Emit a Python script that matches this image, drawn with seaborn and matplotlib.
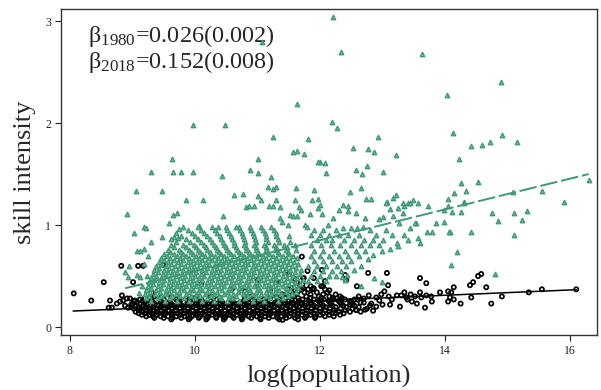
import matplotlib
matplotlib.use("Agg")
import matplotlib.pyplot as plt
import pandas as pd
import seaborn as sns

# ---------------- data ----------------
# 2018 series (green triangles): sparse / outlying points
green_pts = [
    (11.07, 2.79), (9.97, 1.98), (10.48, 1.98), (11.63, 2.19), (11.25, 1.86), (9.63, 1.65),
    (9.30, 1.52), (9.65, 1.52), (9.78, 1.52), (9.97, 1.52), (10.43, 1.48), (10.88, 1.54),
    (11.01, 1.51), (11.00, 1.65), (11.21, 1.47), (11.57, 1.72), (11.63, 1.73), (9.06, 1.33),
    (9.47, 1.33), (9.86, 1.25), (10.13, 1.25), (10.63, 1.29), (10.76, 1.30), (11.01, 1.28),
    (11.17, 1.37), (11.25, 1.35), (11.30, 1.37), (11.62, 1.36),
    (12.21, 3.04), (12.34, 2.70), (13.63, 2.68), (14.90, 2.40), (14.03, 2.27), (12.19, 2.01),
    (12.27, 1.95), (11.81, 1.84), (11.74, 1.70), (12.53, 1.76), (12.76, 1.75), (12.86, 1.72),
    (12.92, 1.86), (13.22, 1.69), (14.13, 1.90), (14.42, 1.77), (14.59, 1.78), (14.72, 1.81),
    (14.91, 1.88), (15.15, 1.81), (14.22, 1.65), (12.00, 1.62), (12.08, 1.61), (12.10, 1.51),
    (12.58, 1.54), (12.67, 1.50), (12.75, 1.58), (13.00, 1.52), (11.90, 1.34), (12.48, 1.32),
    (12.65, 1.36), (13.21, 1.29), (14.25, 1.41), (14.53, 1.42), (14.14, 1.31), (14.34, 1.33),
    (15.09, 1.32), (15.55, 1.33), (16.30, 1.44), (15.91, 1.23), (14.31, 1.23), (14.12, 1.13),
    (14.25, 1.13), (14.75, 1.12), (15.10, 1.12), (15.31, 1.14), (14.85, 1.04), (15.23, 1.05),
    (14.42, 0.93), (15.10, 0.90), (14.08, 0.93), (14.20, 0.74), (14.10, 0.61), (14.80, 0.52),
    (12.73, 1.26), (12.81, 1.26), (13.07, 1.23), (13.17, 1.27), (13.41, 1.22), (13.49, 1.25),
    (13.57, 1.22), (13.35, 1.19), (13.25, 1.17), (13.12, 1.16), (13.73, 1.19), (14.05, 1.26),
    (14.05, 1.19), (13.98, 1.15), (12.37, 1.20), (12.30, 1.15), (12.45, 1.19), (12.45, 1.14),
    (12.58, 1.12), (12.21, 1.07), (12.13, 1.00), (12.00, 1.20), (12.03, 1.11), (12.72, 1.07),
    (12.94, 1.06), (13.00, 1.08), (13.17, 1.09), (13.33, 1.12), (13.54, 1.02), (13.86, 1.02),
    (13.98, 1.03), (13.26, 1.02), (12.37, 0.97), (12.50, 0.97), (12.59, 0.97), (12.68, 0.98),
    (11.97, 1.62), (11.05, 1.25), (11.30, 1.25), (11.60, 1.25), (11.97, 1.26), (10.82, 1.18),
    (10.86, 1.19), (10.94, 1.19), (11.18, 1.19), (11.25, 1.19), (11.36, 1.18), (11.67, 1.18),
    (11.70, 1.15), (11.84, 1.11), (11.97, 1.17), (10.45, 1.09), (10.06, 0.99), (10.37, 0.98),
    (10.66, 0.98), (11.36, 1.07), (11.39, 1.03), (11.52, 1.10), (11.57, 1.09), (11.63, 1.09),
    (11.49, 1.00), (11.76, 1.00), (11.79, 0.98), (8.91, 1.11), (9.65, 1.10), (9.71, 1.12),
    (9.58, 1.02), (9.18, 0.98), (9.21, 0.97), (9.74, 0.96), (9.03, 0.92), (9.47, 0.88),
    (9.66, 0.88), (9.72, 0.87), (9.07, 0.75), (9.12, 0.75), (9.18, 0.77), (9.30, 0.83),
    (8.88, 0.54), (8.92, 0.49), (9.07, 0.51), (9.12, 0.49), (9.23, 0.50), (8.95, 0.60),
    (11.87, 1.25), (13.06, 1.22), (13.33, 1.22), (13.44, 1.22), (14.30, 1.22), (13.71, 0.93),
    (13.79, 0.93), (14.06, 0.93), (13.60, 0.82), (13.57, 0.87), (13.52, 1.02), (13.44, 0.97),
    (13.23, 0.82), (13.25, 0.79), (13.12, 0.77), (12.99, 0.75), (12.85, 0.71), (12.77, 0.67),
    (12.66, 0.60), (12.54, 0.56), (12.43, 0.51), (12.35, 0.49), (12.87, 0.48), (12.99, 0.44),
    (12.66, 0.40), (12.40, 0.46), (9.15, 0.40), (9.10, 0.33), (9.18, 0.62), (9.25, 0.70),
]

# 2018 series: the dense cloud, read row by row (y level, x positions)
green_rows = [
    (0.26, [9.3, 9.52, 9.71, 9.9, 10.12, 10.3, 10.51, 10.7, 10.93, 11.1, 11.32]),
    (0.28, [9.22, 9.4, 9.6, 9.82, 10.0, 10.2, 10.41, 10.6, 10.8, 11.02, 11.2, 11.4]),
    (0.30, [9.27, 9.45, 9.63, 9.76, 9.93, 10.08, 10.25, 10.38, 10.55, 10.66, 10.85, 10.97, 11.14, 11.3, 11.48]),
    (0.32, [9.2, 9.36, 9.52, 9.69, 9.85, 10.01, 10.16, 10.31, 10.47, 10.61, 10.76, 10.91, 11.06, 11.22, 11.38, 11.55]),
    (0.34, [9.28, 9.44, 9.58, 9.74, 9.9, 10.05, 10.2, 10.36, 10.52, 10.68, 10.82, 10.98, 11.13, 11.28, 11.45, 11.62]),
    (0.36, [9.22, 9.38, 9.53, 9.67, 9.82, 9.97, 10.12, 10.27, 10.43, 10.58, 10.73, 10.88, 11.04, 11.2, 11.35, 11.52]),
    (0.38, [9.3, 9.46, 9.61, 9.77, 9.93, 10.08, 10.23, 10.39, 10.54, 10.7, 10.85, 11.0, 11.16, 11.3, 11.46, 11.65]),
    (0.40, [9.25, 9.41, 9.56, 9.71, 9.86, 10.01, 10.17, 10.32, 10.47, 10.62, 10.78, 10.94, 11.1, 11.25, 11.4, 11.58]),
    (0.42, [9.33, 9.49, 9.64, 9.79, 9.95, 10.1, 10.26, 10.41, 10.57, 10.72, 10.87, 11.03, 11.18, 11.34, 11.5, 11.68]),
    (0.44, [9.27, 9.43, 9.58, 9.73, 9.89, 10.04, 10.2, 10.35, 10.5, 10.66, 10.81, 10.97, 11.12, 11.28, 11.44, 11.6]),
    (0.46, [9.35, 9.51, 9.66, 9.82, 9.97, 10.12, 10.28, 10.43, 10.59, 10.74, 10.9, 11.05, 11.21, 11.37, 11.53, 11.72]),
    (0.48, [9.3, 9.45, 9.6, 9.76, 9.92, 10.07, 10.22, 10.37, 10.53, 10.68, 10.84, 11.0, 11.15, 11.3, 11.47, 11.63]),
    (0.50, [9.38, 9.53, 9.69, 9.84, 10.0, 10.15, 10.3, 10.46, 10.61, 10.77, 10.92, 11.08, 11.24, 11.4, 11.56]),
    (0.52, [9.32, 9.48, 9.63, 9.79, 9.94, 10.09, 10.25, 10.4, 10.56, 10.71, 10.86, 11.02, 11.17, 11.33, 11.5, 11.68]),
    (0.54, [9.4, 9.56, 9.71, 9.87, 10.02, 10.18, 10.33, 10.49, 10.64, 10.8, 10.95, 11.1, 11.26, 11.42, 11.6]),
    (0.56, [9.35, 9.5, 9.65, 9.81, 9.96, 10.12, 10.27, 10.42, 10.58, 10.73, 10.89, 11.04, 11.2, 11.36, 11.52, 11.7]),
    (0.58, [9.43, 9.58, 9.74, 9.9, 10.05, 10.2, 10.36, 10.51, 10.67, 10.82, 10.98, 11.13, 11.29, 11.45, 11.62]),
    (0.60, [9.38, 9.53, 9.68, 9.84, 9.99, 10.14, 10.3, 10.45, 10.61, 10.76, 10.92, 11.07, 11.23, 11.39, 11.55]),
    (0.62, [9.46, 9.62, 9.77, 9.93, 10.08, 10.23, 10.39, 10.54, 10.7, 10.85, 11.01, 11.16, 11.32, 11.48, 11.65]),
    (0.64, [9.42, 9.57, 9.72, 9.88, 10.03, 10.18, 10.33, 10.49, 10.64, 10.8, 10.95, 11.11, 11.26, 11.42, 11.58]),
    (0.66, [9.5, 9.66, 9.81, 9.97, 10.12, 10.27, 10.43, 10.58, 10.74, 10.89, 11.05, 11.2, 11.36, 11.52]),
    (0.68, [9.45, 9.6, 9.76, 9.91, 10.06, 10.22, 10.37, 10.52, 10.68, 10.83, 10.99, 11.14, 11.3, 11.46, 11.63]),
    (0.70, [9.55, 9.71, 9.86, 10.01, 10.16, 10.32, 10.47, 10.62, 10.78, 10.93, 11.09, 11.24, 11.4, 11.56]),
    (0.72, [9.5, 9.66, 9.8, 9.96, 10.11, 10.26, 10.42, 10.57, 10.73, 10.88, 11.03, 11.19, 11.34, 11.5]),
    (0.74, [9.6, 9.77, 9.93, 10.08, 10.24, 10.39, 10.55, 10.7, 10.86, 11.01, 11.17, 11.33, 11.49]),
    (0.76, [9.56, 9.74, 9.9, 10.05, 10.2, 10.36, 10.51, 10.67, 10.82, 10.98, 11.13, 11.29, 11.45, 11.62]),
    (0.78, [9.66, 9.85, 10.02, 10.18, 10.34, 10.5, 10.66, 10.82, 10.97, 11.13, 11.3, 11.47]),
    (0.80, [9.62, 9.8, 9.98, 10.14, 10.3, 10.46, 10.62, 10.78, 10.95, 11.1, 11.27, 11.43, 11.6]),
    (0.83, [9.7, 9.92, 10.1, 10.28, 10.45, 10.63, 10.8, 10.98, 11.16, 11.35, 11.52]),
    (0.86, [9.62, 9.85, 10.05, 10.24, 10.42, 10.6, 10.78, 10.96, 11.14, 11.32]),
    (0.89, [9.78, 10.0, 10.2, 10.4, 10.58, 10.77, 10.95, 11.13, 11.3, 11.5]),
    (0.92, [9.7, 9.95, 10.15, 10.36, 10.55, 10.75, 10.93, 11.12, 11.3]),
    (0.95, [9.88, 10.1, 10.32, 10.52, 10.72, 10.9, 11.08, 11.26]),
    (0.98, [9.8, 10.05, 10.28, 10.5, 10.7, 10.88, 11.06, 11.22]),
    (0.95, [11.9, 12.05, 12.25, 12.8, 13.05]),
    (0.90, [11.85, 12.0, 12.15, 12.3, 12.45, 12.62, 12.9, 13.15, 13.35]),
    (0.85, [11.95, 12.1, 12.2, 12.38, 12.55, 12.7, 12.85, 13.0, 13.4]),
    (0.80, [11.85, 12.02, 12.18, 12.32, 12.5, 12.65, 12.8, 12.95]),
    (0.75, [11.9, 12.05, 12.22, 12.4, 12.58, 12.72]),
    (0.70, [11.85, 12.0, 12.15, 12.3, 12.45, 12.62]),
    (0.65, [11.9, 12.05, 12.2, 12.35, 12.5]),
    (0.60, [11.8, 11.95, 12.1, 12.28, 12.42]),
    (0.55, [11.9, 12.05, 12.2, 12.33]),
    (0.50, [11.85, 12.0, 12.15, 12.25]),
    (0.45, [11.8, 11.95, 12.1]),
]

# 1980 series (black circles): sparse / outlying points
black_pts = [
    (8.06, 0.33), (8.34, 0.26), (8.54, 0.44), (8.64, 0.26), (8.82, 0.60), (9.09, 0.60),
    (9.17, 0.60), (9.01, 0.44), (8.83, 0.31), (8.62, 0.19), (8.67, 0.19), (8.75, 0.23),
    (8.80, 0.25), (8.85, 0.26), (8.91, 0.28), (8.96, 0.28), (9.04, 0.26), (9.25, 0.36),
    (9.31, 0.34), (9.49, 0.61), (8.88, 0.21), (8.93, 0.19), (8.98, 0.22),
    (14.14, 0.39), (14.10, 0.34), (14.08, 0.29), (14.14, 0.27), (14.25, 0.23), (14.40, 0.41),
    (14.45, 0.44), (14.53, 0.50), (14.58, 0.52), (14.66, 0.39), (14.42, 0.29), (14.74, 0.23),
    (14.91, 0.30), (15.34, 0.34), (15.55, 0.37), (16.10, 0.37),
    (12.77, 0.53), (13.07, 0.53), (13.60, 0.48), (13.70, 0.43), (13.09, 0.41), (12.59, 0.40),
    (12.08, 0.45), (12.03, 0.56), (12.40, 0.51), (12.42, 0.46), (12.15, 0.36), (13.03, 0.35),
    (13.92, 0.34), (14.05, 0.35), (14.05, 0.25), (13.79, 0.25), (13.28, 0.20), (13.68, 0.19),
    (13.47, 0.25), (13.55, 0.23), (12.72, 0.17), (12.85, 0.16), (12.58, 0.17), (12.25, 0.14),
    (12.48, 0.22), (12.82, 0.23), (13.23, 0.31), (12.62, 0.30), (12.70, 0.28), (12.78, 0.31),
    (12.90, 0.29), (12.98, 0.32), (13.10, 0.30), (13.15, 0.27), (13.30, 0.31), (13.38, 0.29),
    (13.45, 0.32), (13.52, 0.30), (13.62, 0.29), (13.70, 0.31), (13.78, 0.30), (13.40, 0.27),
    (12.95, 0.26), (12.55, 0.27), (12.65, 0.24), (13.00, 0.22), (13.12, 0.22), (12.90, 0.20),
    (13.35, 0.34), (13.60, 0.34), (10.10, 0.42), (10.60, 0.38), (11.00, 0.40), (11.30, 0.44),
    (11.50, 0.52), (11.00, 0.46), (10.80, 0.35), (11.72, 0.42), (11.90, 0.48), (11.80, 0.55),
    (11.60, 0.47), (11.90, 0.38), (12.05, 0.40), (11.55, 0.38), (11.40, 0.07), (11.73, 0.48),
    (11.71, 0.69), (11.63, 0.44), (11.74, 0.48), (11.73, 0.38), (11.65, 0.35), (11.81, 0.37),
    (11.33, 0.44), (11.20, 0.36),
]

# 1980 series: the dense band, read row by row (y level, x positions)
black_rows = [
    (0.075, [9.62, 9.9, 10.18, 10.46, 10.75, 11.05, 11.35, 11.65]),
    (0.09, [9.35, 9.5, 9.64, 9.78, 9.92, 10.06, 10.2, 10.34, 10.48, 10.62, 10.76, 10.9, 11.04,
            11.18, 11.32, 11.46, 11.6, 11.76, 11.92]),
    (0.105, [9.22, 9.33, 9.45, 9.57, 9.7, 9.83, 9.95, 10.08, 10.21, 10.34, 10.47, 10.6, 10.73,
             10.86, 10.99, 11.12, 11.25, 11.38, 11.51, 11.64, 11.78, 11.93, 12.08, 12.22]),
    (0.12, [9.15, 9.27, 9.39, 9.51, 9.63, 9.76, 9.89, 10.02, 10.15, 10.28, 10.41, 10.54, 10.67,
            10.8, 10.93, 11.06, 11.19, 11.32, 11.45, 11.58, 11.71, 11.85, 12.0, 12.15, 12.32]),
    (0.135, [9.1, 9.2, 9.31, 9.42, 9.52, 9.62, 9.72, 9.82, 9.92, 10.02, 10.12, 10.22, 10.32,
             10.42, 10.52, 10.62, 10.72, 10.82, 10.92, 11.02, 11.12, 11.22, 11.32, 11.42, 11.53,
             11.65, 11.78, 11.9, 12.05, 12.2, 12.38]),
    (0.15, [9.05, 9.16, 9.28, 9.4, 9.52, 9.64, 9.77, 9.9, 10.03, 10.16, 10.29, 10.42, 10.55,
            10.68, 10.81, 10.94, 11.07, 11.2, 11.33, 11.46, 11.59, 11.72, 11.86, 12.0, 12.15,
            12.3, 12.48, 12.65]),
    (0.165, [9.1, 9.22, 9.34, 9.46, 9.58, 9.7, 9.83, 9.96, 10.09, 10.22, 10.35, 10.48, 10.61,
             10.74, 10.87, 11.0, 11.13, 11.26, 11.39, 11.52, 11.65, 11.79, 11.93, 12.08, 12.23,
             12.4, 12.58]),
    (0.18, [9.02, 9.14, 9.26, 9.38, 9.5, 9.63, 9.76, 9.89, 10.02, 10.15, 10.28, 10.41, 10.54,
            10.67, 10.8, 10.93, 11.06, 11.19, 11.32, 11.45, 11.58, 11.72, 11.86, 12.0, 12.16,
            12.33, 12.52, 12.75]),
    (0.195, [8.98, 9.1, 9.21, 9.33, 9.45, 9.57, 9.7, 9.83, 9.96, 10.09, 10.22, 10.35, 10.48,
             10.61, 10.74, 10.87, 11.0, 11.13, 11.26, 11.39, 11.52, 11.66, 11.8, 11.94, 12.09,
             12.25, 12.42, 12.62]),
    (0.21, [9.05, 9.17, 9.29, 9.41, 9.53, 9.66, 9.79, 9.92, 10.05, 10.18, 10.31, 10.44, 10.57,
            10.7, 10.83, 10.96, 11.09, 11.22, 11.35, 11.48, 11.62, 11.76, 11.9, 12.05, 12.2,
            12.37, 12.55, 12.8]),
    (0.225, [9.0, 9.12, 9.24, 9.36, 9.49, 9.62, 9.75, 9.88, 10.01, 10.14, 10.27, 10.4, 10.53,
             10.66, 10.79, 10.92, 11.05, 11.18, 11.31, 11.44, 11.58, 11.72, 11.86, 12.01, 12.17,
             12.34, 12.52]),
    (0.24, [9.07, 9.2, 9.33, 9.46, 9.6, 9.74, 9.88, 10.02, 10.16, 10.3, 10.44, 10.58, 10.72,
            10.86, 11.0, 11.14, 11.28, 11.42, 11.56, 11.7, 11.85, 12.0, 12.16, 12.32, 12.5, 12.7]),
    (0.255, [9.02, 9.16, 9.3, 9.45, 9.6, 9.76, 9.92, 10.08, 10.25, 10.42, 10.6, 10.78, 10.96,
             11.14, 11.32, 11.5, 11.66, 11.82, 11.98, 12.14, 12.3, 12.48]),
    (0.27, [9.12, 9.3, 9.5, 9.7, 9.9, 10.1, 10.35, 10.6, 10.85, 11.1, 11.35, 11.55, 11.72, 11.9,
            12.06, 12.22, 12.4, 12.6]),
    (0.285, [9.2, 9.45, 9.7, 10.0, 10.4, 10.8, 11.2, 11.45, 11.65, 11.85, 12.02, 12.2, 12.35]),
    (0.30, [9.35, 9.62, 10.25, 10.9, 11.3, 11.58, 11.78, 11.98, 12.15, 12.32]),
    (0.32, [11.4, 11.62, 11.85, 12.05, 12.25]),
    (0.34, [11.55, 11.75, 11.95, 12.12]),
    (0.37, [11.5, 11.7, 11.88, 12.08]),
    (0.40, [11.62, 11.85, 12.02]),
]

# fitted lines (end points)
fit1980_x = [8.05, 16.10]
fit1980_y = [0.157, 0.366]
fit2018_x = [8.88, 16.30]
fit2018_y = [0.38, 1.50]

x_ticks = [8, 10, 12, 14, 16]
y_ticks = [0, 1, 2, 3]
label_1980 = r"$\mathrm{\beta}_{1980}$=0.026(0.002)"
label_2018 = r"$\mathrm{\beta}_{2018}$=0.152(0.008)"

# ---------------- assemble ----------------
def expand(pts, rows):
    xs = [p[0] for p in pts]
    ys = [p[1] for p in pts]
    for yv, xl in rows:
        xs.extend(xl)
        ys.extend([yv] * len(xl))
    return pd.DataFrame({"x": xs, "y": ys})

df_black = expand(black_pts, black_rows)
df_green = expand(green_pts, green_rows)

sns.set_style("ticks")
plt.rcParams["font.family"] = ["Liberation Serif", "DejaVu Serif"]
plt.rcParams["mathtext.fontset"] = "custom"
plt.rcParams["mathtext.rm"] = "Liberation Serif"
plt.rcParams["mathtext.it"] = "Liberation Serif:italic"

GREEN = "#3d9874"

fig = plt.figure(figsize=(6.01, 3.90), dpi=100)
ax = fig.add_axes([61 / 601, 1 - 335 / 390, (597 - 61) / 601, (335 - 9) / 390])

sns.scatterplot(data=df_black, x="x", y="y", ax=ax, marker="o", s=9,
                facecolor="none", edgecolor="black", linewidth=1.25, legend=False, zorder=2)
sns.lineplot(x=fit1980_x, y=fit1980_y, ax=ax, color="black", linewidth=1.1, zorder=3)
sns.scatterplot(data=df_green, x="x", y="y", ax=ax, marker="^", s=10,
                facecolor="#7dbba0", edgecolor=GREEN, linewidth=1.0, legend=False, zorder=4)
sns.lineplot(x=fit2018_x, y=fit2018_y, ax=ax, color=GREEN, linewidth=1.4, zorder=5)
ax.lines[-1].set_dashes([9, 2])

ax.set_xlim(7.856, 16.432)
ax.set_ylim(-0.078, 3.118)
ax.set_xticks(x_ticks)
ax.set_yticks(y_ticks)
ax.set_xticklabels([str(t) for t in x_ticks])
ax.set_yticklabels([str(t) for t in y_ticks])
ax.tick_params(direction="out", length=4, width=0.8, labelsize=8.5, colors="#222222", pad=3)
for sp in ax.spines.values():
    sp.set_visible(True)
    sp.set_linewidth(1.0)
    sp.set_color("#333333")

ax.set_xlabel("log(population)", fontsize=19, labelpad=6)
ax.set_ylabel("skill intensity", fontsize=19, labelpad=7)

ax.text(0.05, 0.958, label_1980, transform=ax.transAxes, fontsize=17.5, va="top", ha="left")
ax.text(0.05, 0.878, label_2018, transform=ax.transAxes, fontsize=17.5, va="top", ha="left")

fig.savefig("out.png", dpi=100)
